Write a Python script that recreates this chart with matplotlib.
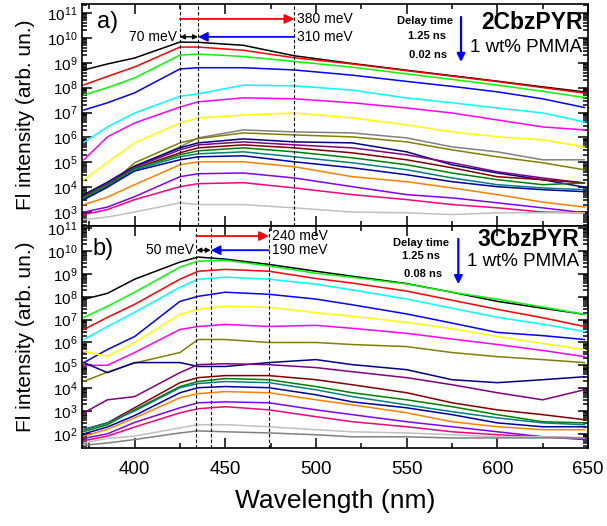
import numpy as np
import matplotlib
matplotlib.use("Agg")
import matplotlib.pyplot as plt
from matplotlib.ticker import LogLocator, MultipleLocator, NullFormatter

plt.rcParams['font.family'] = ['Liberation Sans', 'DejaVu Sans']
plt.rcParams['mathtext.fontset'] = 'custom'
plt.rcParams['mathtext.rm'] = 'Liberation Sans'

# ---- panel a) 2CbzPYR, log10 of intensity ----
wl_a = [372, 385, 400, 425, 435, 460, 488, 520, 550, 575, 600, 625, 648]
a_black   = [8.71, 8.95, 9.19, 9.83, 9.82, 9.70, 9.28, 8.97, 8.70, 8.48, 8.26, 8.03, 7.83]
a_red     = [8.11, 8.45, 8.83, 9.63, 9.63, 9.50, 9.20, 8.95, 8.68, 8.46, 8.24, 8.00, 7.78]
a_green   = [7.71, 8.00, 8.39, 9.31, 9.35, 9.25, 9.05, 8.82, 8.55, 8.33, 8.10, 7.85, 7.60]
a_blue    = [7.10, 7.39, 7.79, 8.75, 8.80, 8.80, 8.71, 8.50, 8.25, 8.05, 7.83, 7.55, 7.20]
a_cyan    = [5.80, 6.42, 6.98, 7.65, 7.75, 8.10, 8.07, 7.90, 7.58, 7.39, 7.18, 6.98, 6.62]
a_magenta = [5.10, 6.02, 6.58, 7.22, 7.43, 7.59, 7.55, 7.39, 7.18, 6.98, 6.70, 6.42, 6.30]
a_yellow  = [4.30, 5.00, 5.78, 6.58, 6.78, 6.90, 6.98, 6.78, 6.50, 6.22, 6.02, 5.90, 5.62]
a_gray    = [3.50, 4.00, 4.82, 5.62, 5.98, 6.30, 6.22, 6.18, 5.98, 5.62, 5.42, 5.10, 5.10]
a_olive   = [3.60, 4.00, 4.98, 5.78, 5.95, 6.18, 6.10, 6.02, 5.82, 5.50, 5.22, 4.98, 4.70]
a_navy    = [3.70, 4.20, 4.85, 5.58, 5.78, 5.94, 5.82, 5.78, 5.42, 4.90, 4.57, 4.30, 4.00]
a_purple  = [3.60, 4.15, 4.80, 5.50, 5.70, 5.82, 5.70, 5.58, 5.30, 4.98, 4.62, 4.37, 4.17]
a_wine    = [3.65, 4.10, 4.75, 5.38, 5.58, 5.70, 5.58, 5.38, 5.10, 4.78, 4.42, 4.30, 4.17]
a_dkgreen = [3.60, 4.10, 4.75, 5.30, 5.46, 5.58, 5.42, 5.18, 4.90, 4.57, 4.30, 4.10, 4.17]
a_teal    = [3.55, 4.05, 4.70, 5.22, 5.34, 5.42, 5.22, 4.98, 4.70, 4.37, 4.10, 3.97, 3.90]
a_royal   = [3.50, 4.00, 4.65, 5.10, 5.22, 5.26, 5.02, 4.78, 4.50, 4.22, 4.02, 3.90, 3.82]
a_orange  = [3.30, 3.60, 4.10, 4.90, 5.02, 5.02, 4.82, 4.42, 4.22, 3.97, 3.70, 3.40, 3.20]
a_violet  = [3.00, 3.20, 3.62, 4.42, 4.54, 4.57, 4.37, 4.02, 3.70, 3.57, 3.37, 3.17, 2.97]
a_pink    = [2.90, 3.10, 3.50, 4.02, 4.14, 4.18, 3.97, 3.70, 3.50, 3.30, 3.17, 3.00, 2.97]
a_lgray   = [2.70, 2.80, 3.00, 3.37, 3.30, 3.30, 3.17, 3.00, 2.97, 2.90, 2.97, 2.97, 2.97]

# ---- panel b) 3CbzPYR ----
wl_b = [372, 385, 400, 425, 435, 450, 474, 500, 520, 550, 575, 600, 625, 648]
b_black   = [7.89, 8.15, 8.77, 9.52, 9.74, 9.65, 9.42, 9.12, 8.90, 8.58, 8.20, 7.80, 7.50, 7.23]
b_green   = [7.10, 7.58, 8.20, 9.30, 9.56, 9.60, 9.35, 9.03, 8.85, 8.56, 8.20, 7.89, 7.55, 7.23]
b_red     = [6.57, 7.10, 7.67, 8.77, 9.12, 9.20, 9.12, 8.80, 8.60, 8.25, 7.85, 7.45, 7.08, 6.70]
b_cyan    = [6.13, 6.70, 7.32, 8.42, 8.77, 8.86, 8.77, 8.55, 8.30, 7.90, 7.50, 7.10, 6.80, 6.48]
b_blue    = [5.12, 5.69, 6.26, 7.80, 8.02, 8.20, 8.11, 7.90, 7.65, 7.25, 6.85, 6.44, 6.30, 6.13]
b_yellow  = [5.60, 5.40, 6.00, 7.23, 7.45, 7.58, 7.54, 7.30, 7.15, 6.88, 6.60, 6.26, 5.95, 5.69]
b_magenta = [5.00, 5.00, 5.56, 6.57, 6.70, 6.79, 6.70, 6.75, 6.62, 6.40, 6.15, 5.91, 5.65, 5.38]
b_olive   = [4.30, 4.70, 5.10, 5.56, 6.13, 6.13, 6.00, 6.00, 5.91, 5.82, 5.56, 5.38, 5.25, 5.12]
b_navy    = [5.12, 4.68, 5.12, 5.12, 4.95, 4.95, 5.12, 5.25, 5.03, 4.81, 4.37, 4.24, 4.37, 4.50]
b_purple  = [2.92, 3.49, 3.63, 4.68, 5.03, 5.07, 5.03, 4.90, 4.72, 4.46, 4.15, 3.80, 3.49, 3.93]
b_wine    = [2.18, 2.48, 3.14, 4.24, 4.46, 4.55, 4.55, 4.37, 4.15, 3.80, 3.36, 3.05, 2.84, 2.62]
b_dkgreen = [2.10, 2.40, 3.05, 4.07, 4.29, 4.42, 4.37, 4.07, 3.80, 3.49, 3.19, 2.84, 2.53, 2.48]
b_teal    = [2.20, 2.48, 3.00, 4.02, 4.20, 4.29, 4.24, 3.93, 3.63, 3.27, 2.97, 2.70, 2.48, 2.40]
b_royal   = [2.00, 2.30, 2.80, 3.80, 4.02, 4.07, 4.02, 3.71, 3.40, 3.14, 2.84, 2.48, 2.31, 2.31]
b_orange  = [1.90, 2.20, 2.70, 3.58, 3.76, 3.85, 3.80, 3.49, 3.27, 2.92, 2.53, 2.31, 2.18, 2.18]
b_violet  = [1.80, 2.00, 2.50, 3.14, 3.36, 3.40, 3.36, 3.05, 2.84, 2.53, 2.31, 2.09, 1.87, 1.75]
b_pink    = [1.70, 1.90, 2.30, 2.92, 3.10, 3.19, 3.05, 2.75, 2.53, 2.31, 2.09, 1.96, 1.87, 1.82]
b_lgray   = [1.60, 1.80, 1.90, 2.26, 2.40, 2.40, 2.31, 2.18, 2.09, 2.04, 1.96, 1.87, 1.87, 1.82]
b_gray    = [1.50, 1.60, 1.75, 2.04, 2.13, 2.09, 2.04, 1.96, 1.87, 1.87, 1.82, 1.82, 1.82, 1.82]

# dashed guide wavelengths
guides_a = [425, 435, 488]
guides_b = [434, 442, 474]

curves_a = [(a_black, 'black'), (a_red, 'red'), (a_green, '#00ff00'), (a_blue, 'blue'),
            (a_cyan, 'cyan'), (a_magenta, 'magenta'), (a_yellow, '#ffff00'),
            (a_gray, '#808080'), (a_olive, '#808000'), (a_navy, '#000080'),
            (a_purple, '#800080'), (a_wine, '#800000'), (a_dkgreen, '#008000'),
            (a_teal, '#008080'), (a_royal, '#0000a0'), (a_orange, '#ff8000'),
            (a_violet, '#8000ff'), (a_pink, '#ff0080'), (a_lgray, '#c0c0c0')]
curves_b = [(b_black, 'black'), (b_green, '#00ff00'), (b_red, 'red'), (b_cyan, 'cyan'),
            (b_blue, 'blue'), (b_yellow, '#ffff00'), (b_magenta, 'magenta'),
            (b_olive, '#808000'), (b_navy, '#000080'), (b_purple, '#800080'),
            (b_wine, '#800000'), (b_dkgreen, '#008000'), (b_teal, '#008080'),
            (b_royal, '#0000a0'), (b_orange, '#ff8000'), (b_violet, '#8000ff'),
            (b_pink, '#ff0080'), (b_lgray, '#c0c0c0'), (b_gray, '#808080')]

W, H = 607, 526
fig = plt.figure(figsize=(W / 100, H / 100), dpi=100)
L, R = 82 / W, 588 / W
ax_a = fig.add_axes([L, 1 - 226 / H, R - L, 222 / H])
ax_b = fig.add_axes([L, 1 - 448 / H, R - L, 222 / H])


def style(ax, ylo, yhi, labels):
    ax.set_yscale('log')
    ax.set_xlim(371, 650)
    ax.set_ylim(10 ** ylo, 10 ** yhi)
    ax.xaxis.set_major_locator(MultipleLocator(50))
    ax.xaxis.set_minor_locator(MultipleLocator(25))
    ax.yaxis.set_major_locator(LogLocator(base=10, numticks=20))
    ax.yaxis.set_minor_locator(LogLocator(base=10, subs=np.arange(2, 10), numticks=20))
    ax.yaxis.set_minor_formatter(NullFormatter())
    ax.tick_params(which='both', direction='in', top=True, right=True, width=1.1)
    ax.tick_params(which='major', length=7)
    ax.tick_params(which='minor', length=3.5)
    ax.tick_params(axis='y', labelsize=11, pad=3)
    ax.tick_params(axis='x', labelsize=13.5, pad=9)
    if not labels:
        ax.tick_params(labelbottom=False)
    for s in ax.spines.values():
        s.set_linewidth(1.2)
    ax.set_ylabel('Fl intensity (arb. un.)', fontsize=15, labelpad=9)


def draw(ax, wl, curves, guides, e_labels, y_red, y_blue):
    for vals, c in curves:
        ax.plot(wl, 10 ** np.array(vals), color=c, lw=1.1)
    for g in guides:
        ax.axvline(g, color='black', ls=(0, (3, 2)), lw=0.8)
    g0, g1, g2 = guides
    ax.annotate('', xy=(g2, 10 ** y_red), xytext=(g0, 10 ** y_red),
                arrowprops=dict(arrowstyle='-|>', color='red', lw=1.3,
                                mutation_scale=14, shrinkA=0, shrinkB=0))
    ax.annotate('', xy=(g1, 10 ** y_blue), xytext=(g2, 10 ** y_blue),
                arrowprops=dict(arrowstyle='-|>', color='blue', lw=1.3,
                                mutation_scale=14, shrinkA=0, shrinkB=0))
    ax.annotate('', xy=(g1, 10 ** y_blue), xytext=(g0, 10 ** y_blue),
                arrowprops=dict(arrowstyle='<|-|>', color='black', lw=1.0,
                                mutation_scale=7, shrinkA=0, shrinkB=0))
    ax.text(g0 - 1.5, 10 ** y_blue, e_labels[0], ha='right', va='center', fontsize=10)
    ax.text(g2 + 1.5, 10 ** y_red, e_labels[1], ha='left', va='center', fontsize=10)
    ax.text(g2 + 1.5, 10 ** y_blue, e_labels[2], ha='left', va='center', fontsize=10)


style(ax_a, 2.44, 11.36, False)
style(ax_b, 1.38, 11.10, True)
draw(ax_a, wl_a, curves_a, guides_a, ['70 meV', '380 meV', '310 meV'], 10.76, 10.04)
draw(ax_b, wl_b, curves_b, guides_b, ['50 meV', '240 meV', '190 meV'], 10.66, 10.04)

# panel a labels
ax_a.text(379, 10 ** 10.64, 'a)', fontsize=17, va='center', ha='left')
ax_a.text(560, 10 ** 10.68, 'Delay time', fontsize=8, fontweight='bold', ha='center', va='center')
ax_a.text(561, 10 ** 10.08, '1.25 ns', fontsize=8, fontweight='bold', ha='center', va='center')
ax_a.text(562, 10 ** 9.31, '0.02 ns', fontsize=8, fontweight='bold', ha='center', va='center')
ax_a.annotate('', xy=(580, 10 ** 9.03), xytext=(580, 10 ** 10.84),
              arrowprops=dict(arrowstyle='-|>', color='blue', lw=1.6,
                              mutation_scale=12, shrinkA=0, shrinkB=0))
ax_a.text(647, 10 ** 10.6, '2CbzPYR', fontsize=16.5, fontweight='bold', ha='right', va='center')
ax_a.text(647, 10 ** 9.63, '1 wt% PMMA', fontsize=13.5, ha='right', va='center')

# panel b labels
ax_b.text(377, 10 ** 10.09, 'b)', fontsize=17, va='center', ha='left')
ax_b.text(558, 10 ** 10.35, 'Delay time', fontsize=8, fontweight='bold', ha='center', va='center')
ax_b.text(558, 10 ** 9.78, '1.25 ns', fontsize=8, fontweight='bold', ha='center', va='center')
ax_b.text(559, 10 ** 8.99, '0.08 ns', fontsize=8, fontweight='bold', ha='center', va='center')
ax_b.annotate('', xy=(578.5, 10 ** 8.55), xytext=(578.5, 10 ** 10.53),
              arrowprops=dict(arrowstyle='-|>', color='blue', lw=1.6,
                              mutation_scale=12, shrinkA=0, shrinkB=0))
ax_b.text(645, 10 ** 10.53, '3CbzPYR', fontsize=16.5, fontweight='bold', ha='right', va='center')
ax_b.text(645, 10 ** 9.56, '1 wt% PMMA', fontsize=13.5, ha='right', va='center')

ax_b.set_xlabel('Wavelength (nm)', fontsize=19, labelpad=8)

fig.savefig('out.png', dpi=100)
